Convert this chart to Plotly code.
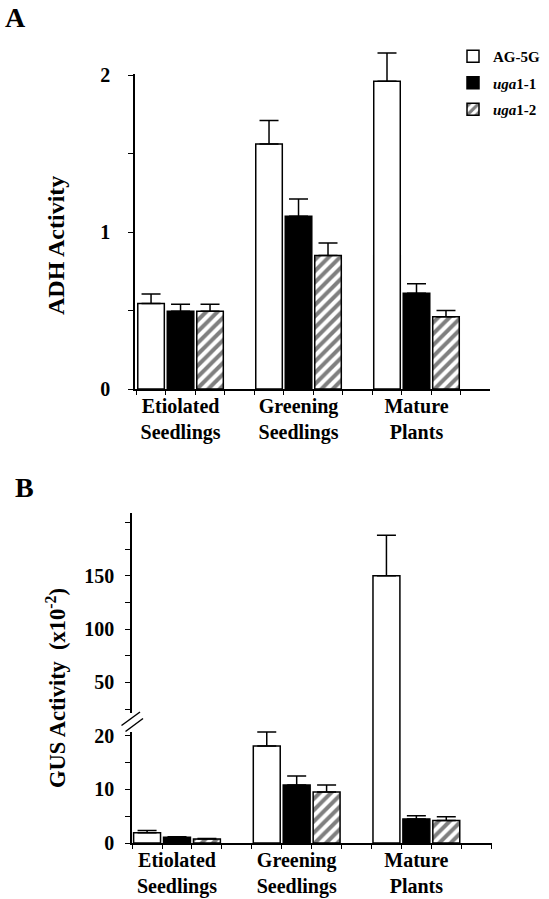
import plotly.graph_objects as go

# ---------------- data ----------------
categories = ["Etiolated<br>Seedlings", "Greening<br>Seedlings", "Mature<br>Plants"]
cat_pos = [0, 1, 2]
series_names = ["AG-5G", "<i>uga</i>1-1", "<i>uga</i>1-2"]

# Panel A: ADH activity
adh_ag5g = [0.545, 1.56, 1.96]
adh_ag5g_err = [0.06, 0.15, 0.18]
adh_uga11 = [0.495, 1.10, 0.61]
adh_uga11_err = [0.045, 0.11, 0.06]
adh_uga12 = [0.495, 0.85, 0.46]
adh_uga12_err = [0.045, 0.08, 0.04]

# Panel B: GUS activity (x10^-2)
gus_ag5g = [1.9, 18.1, 150]
gus_ag5g_err = [0.45, 2.6, 38]
gus_uga11 = [1.05, 10.8, 4.5]
gus_uga11_err = [0.1, 1.7, 0.6]
gus_uga12 = [0.75, 9.5, 4.2]
gus_uga12_err = [0.1, 1.3, 0.7]

adh_ticks = [0, 1, 2]
adh_minor = [0.5, 1.5]
gus_low_ticks = [0, 10, 20]
gus_low_minor = [5, 15]
gus_high_ticks = [50, 100, 150]
gus_high_minor = [25, 75, 125, 175, 200]

# ---------------- layout helpers ----------------
W, H = 549, 899
FONT = "Liberation Serif"


def fx(p):
    return p / W


def fy(p):
    return 1 - p / H


styles = [
    dict(color="white", line=dict(color="black", width=1.5)),
    dict(color="black", line=dict(color="black", width=1.5)),
    dict(color="white", line=dict(color="black", width=1.5),
         pattern=dict(shape="/", fgcolor="black", bgcolor="white", size=8, solidity=0.5)),
]

fig = go.Figure()

adh_vals = [adh_ag5g, adh_uga11, adh_uga12]
adh_errs = [adh_ag5g_err, adh_uga11_err, adh_uga12_err]
gus_vals = [gus_ag5g, gus_uga11, gus_uga12]
gus_errs = [gus_ag5g_err, gus_uga11_err, gus_uga12_err]


def err(arr):
    return dict(type="data", array=arr, arrayminus=[0] * len(arr), symmetric=False,
                color="black", thickness=1.5, width=9.5)


for i in range(3):
    fig.add_trace(go.Bar(x=cat_pos, y=adh_vals[i], name=series_names[i], marker=styles[i],
                         error_y=err(adh_errs[i]), xaxis="x", yaxis="y",
                         legendgroup=f"g{i}", showlegend=True))
for i in range(3):
    fig.add_trace(go.Bar(x=cat_pos, y=gus_vals[i], name=series_names[i], marker=styles[i],
                         error_y=err(gus_errs[i]), xaxis="x2", yaxis="y2",
                         legendgroup=f"g{i}", showlegend=False))
for i in range(3):
    fig.add_trace(go.Bar(x=cat_pos, y=gus_vals[i], name=series_names[i], marker=styles[i],
                         error_y=err(gus_errs[i]), xaxis="x2", yaxis="y3",
                         legendgroup=f"g{i}", showlegend=False))

tickfont = dict(family=FONT, size=20, color="black", weight="bold")
catfont = dict(family=FONT, size=20, color="black", weight="bold")

common_x = dict(type="linear", tickmode="array", tickvals=cat_pos, ticktext=categories,
                ticks="", showline=True, linecolor="black", linewidth=1.5,
                showgrid=False, zeroline=False, tickfont=catfont, ticklabelstandoff=-2,
                minor=dict(ticks="outside", tickmode="linear", tick0=-0.375, dtick=0.25,
                           ticklen=4, tickwidth=1.2, tickcolor="black", showgrid=False))


def yax(domain, rng, ticks, minor, anchor, standoff):
    return dict(domain=domain, range=rng, anchor=anchor, tickmode="array", tickvals=ticks,
                ticktext=[str(t) for t in ticks], ticks="outside", ticklen=5, tickwidth=1.2,
                tickcolor="black", showline=True, linecolor="black", linewidth=1.5,
                showgrid=False, zeroline=False, tickfont=tickfont, ticklabelstandoff=standoff,
                minor=dict(ticks="outside", tickmode="array", tickvals=minor, ticklen=5,
                           tickwidth=1.2, tickcolor="black", showgrid=False))


# panel A: axis drawn to 2.2 so the tallest error bar fits; the line above 2 is masked
A_TOP = 2.2
a_px_per_unit = (389 - 75) / 2.0
a_top_px = 389 - A_TOP * a_px_per_unit

fig.update_layout(
    width=W, height=H,
    margin=dict(l=0, r=0, t=0, b=0, autoexpand=False),
    paper_bgcolor="white", plot_bgcolor="white",
    barmode="group", bargap=0.25, bargroupgap=0.1,
    font=dict(family=FONT, color="black"),
    xaxis=dict(domain=[fx(135), fx(490)], range=[-0.386, 2.623], anchor="y", **common_x),
    yaxis=yax([fy(389), fy(a_top_px)], [0, A_TOP], adh_ticks, adh_minor, "x", 14),
    xaxis2=dict(domain=[fx(132), fx(492)], range=[-0.376, 2.632], anchor="y2", **common_x),
    yaxis2=yax([fy(843), fy(709)], [0, 25], gus_low_ticks, gus_low_minor, "x2", 7),
    yaxis3=yax([fy(709), fy(513.3)], [25, 208.5], gus_high_ticks, gus_high_minor, "x2", 7),
    legend=dict(x=fx(453), y=fy(40), xanchor="left", yanchor="top",
                font=dict(family=FONT, size=15, color="black", weight="bold"),
                bgcolor="rgba(0,0,0,0)", tracegroupgap=4, itemwidth=30),
    showlegend=True,
)

# mask the panel-A axis line above 2
fig.add_shape(type="rect", xref="paper", yref="paper", x0=fx(126), x1=fx(140),
              y0=fy(74), y1=fy(a_top_px - 2), fillcolor="white", line=dict(width=0), layer="above")

# axis break on panel B
fig.add_shape(type="rect", xref="paper", yref="paper", x0=fx(125), x1=fx(139),
              y0=fy(732), y1=fy(713), fillcolor="white", line=dict(width=0), layer="above")
fig.add_shape(type="line", xref="paper", yref="paper", x0=fx(121.5), y0=fy(725.5),
              x1=fx(140), y1=fy(712), line=dict(color="black", width=1.5), layer="above")
fig.add_shape(type="line", xref="paper", yref="paper", x0=fx(125.5), y0=fy(731.5),
              x1=fx(143), y1=fy(718.5), line=dict(color="black", width=1.5), layer="above")

ann_font = dict(family=FONT, color="black", weight="bold")
fig.add_annotation(x=fx(15), y=fy(17.5), xref="paper", yref="paper", text="A", showarrow=False,
                   font=dict(size=28, **ann_font), xanchor="center", yanchor="middle")
fig.add_annotation(x=fx(24), y=fy(487), xref="paper", yref="paper", text="B", showarrow=False,
                   font=dict(size=28, **ann_font), xanchor="center", yanchor="middle")
fig.add_annotation(x=fx(56), y=fy(246), xref="paper", yref="paper", text="ADH Activity",
                   showarrow=False, textangle=-90, font=dict(size=24, **ann_font),
                   xanchor="center", yanchor="middle")
fig.add_annotation(x=fx(56), y=fy(688), xref="paper", yref="paper",
                   text="GUS Activity\u00a0 (x10<sup>-2</sup>)",
                   showarrow=False, textangle=-90, font=dict(size=22.5, **ann_font),
                   xanchor="center", yanchor="middle")

fig.write_html("out.html", config={"displayModeBar": False},
               post_script="document.body.style.margin='0';")
